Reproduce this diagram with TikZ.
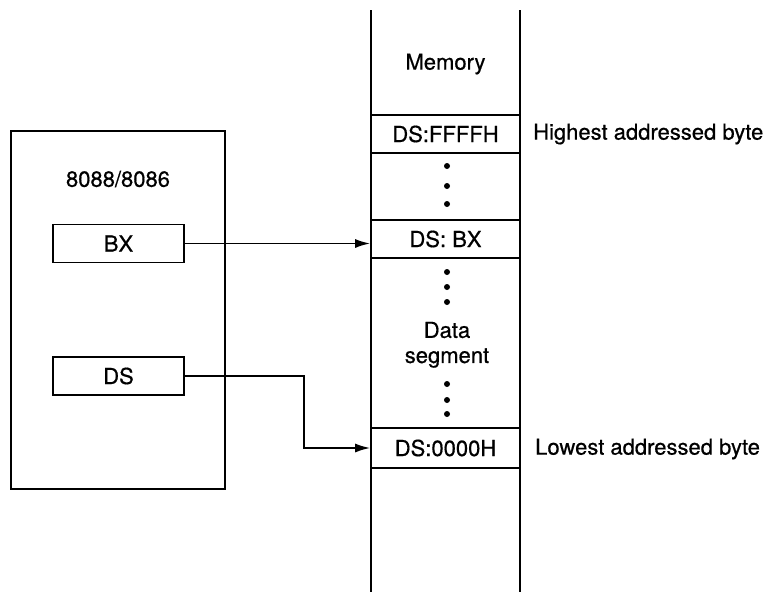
\documentclass[tikz,border=0pt]{standalone}
\usepackage{fontspec}
\setmainfont[FakeBold=0.6,AutoFakeBold=0.6]{TeX Gyre Heros}
\usetikzlibrary{arrows.meta}
\begin{document}
\begin{tikzpicture}[x=1pt,y=-1pt,
  every node/.style={font=\fontsize{22}{25}\selectfont\bfseries, inner sep=0pt},
  ln/.style={line width=1.6pt},
  cell/.style={draw, line width=1.6pt, minimum width=149pt},
  reg/.style={draw, line width=1.6pt, minimum width=131pt, minimum height=38pt},
  dot/.style={fill, circle, minimum size=6pt, inner sep=0pt},
  arr/.style={line width=1.8pt, -{Latex[length=15pt,width=9pt]}},
  lbl/.style={anchor=west}]
\useasboundingbox (0,0) rectangle (766,592);
% memory column
\draw[ln] (371,10) -- (371,592);
\draw[ln] (520,10) -- (520,592);
\node (memtitle) at (445.5,64) {Memory};
\node[cell, minimum height=38pt] (cellff) at (445.5,134) {DS:FFFFH};
\node[cell, minimum height=38pt] (cellbx) at (445.5,239) {DS: BX};
\node[cell, minimum height=40pt] (cell0) at (445.5,448) {DS:0000H};
\node[dot] (d1) at (447,166) {};
\node[dot] (d2) at (447,186) {};
\node[dot] (d3) at (447,204) {};
\node[dot] (d4) at (447,272) {};
\node[dot] (d5) at (447,287) {};
\node[dot] (d6) at (447,302) {};
\node (data) at (447,330) {Data};
\node (segment) at (447,358) {segment};
\node[dot] (d7) at (447,384) {};
\node[dot] (d8) at (447,400) {};
\node[dot] (d9) at (447,414) {};
\node[lbl] (high) at (533,134) {Highest addressed byte};
\node[lbl] (low) at (535,449) {Lowest addressed byte};
% processor
\node[draw, line width=1.6pt, minimum width=214pt, minimum height=358pt] (cpu) at (118,310) {};
\node (cpuname) at (118,179) {8088/8086};
\node[reg] (bx) at (118.5,243.5) {BX};
\node[reg] (ds) at (118.5,376) {DS};
% connectors
\draw[arr] (bx.east) -- (bx.east -| cellbx.west);
\coordinate (dsbend) at (304,376);
\draw[arr] (ds.east) -- (dsbend) |- (cell0.west);
\end{tikzpicture}
\end{document}
